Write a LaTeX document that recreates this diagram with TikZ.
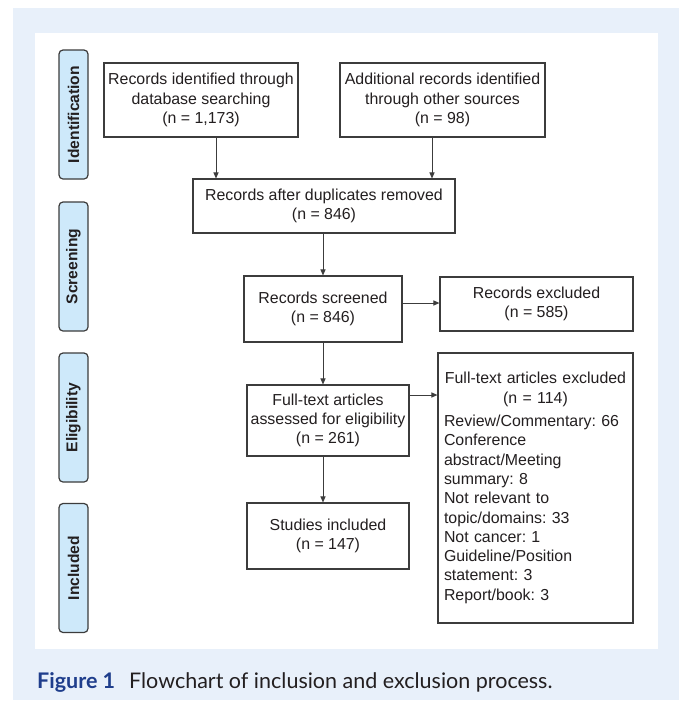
\documentclass[tikz,border=0pt]{standalone}
\usepackage{fontspec}
\setmainfont{Liberation Sans}
\newfontfamily\capfont{Lato}
\usetikzlibrary{arrows.meta}
\definecolor{bgblue}{RGB}{232,240,250}
\definecolor{labblue}{RGB}{206,233,250}
\definecolor{linegray}{RGB}{60,60,60}
\definecolor{txt}{RGB}{35,31,32}
\definecolor{capblue}{RGB}{31,62,140}
\frenchspacing
\begin{document}
\begin{tikzpicture}[x=1pt,y=-1pt,
  box/.style={draw=linegray, line width=1.1pt, fill=white, inner sep=0pt, align=center,
    font=\fontsize{15.9}{19.3}\selectfont, text=txt},
  phase/.style={draw=linegray, line width=1.2pt, fill=labblue, rounded corners=4pt,
    minimum width=129pt, minimum height=29pt, inner sep=0pt, rotate=90,
    font=\bfseries\fontsize{15.6}{18}\selectfont, text=txt},
  arr/.style={draw=linegray, line width=1pt, -{Triangle[length=6pt,width=5pt]}},
]
\useasboundingbox (0,0) rectangle (683,705);
\fill[bgblue] (13,8) rectangle (679,700);
\fill[white] (35,33) rectangle (658,649);

% phase labels
\node[phase] (pid) at (73.5,114.5) {Identification};
\node[phase] (psc) at (73.5,266.5) {Screening};
\node[phase] (pel) at (73.5,417.5) {Eligibility};
\node[phase] (pin) at (73.5,568) {Included};

% boxes
\node[box, minimum width=194pt, minimum height=74pt] (b1) at (201,100)
  {Records identified through\\database searching\\(n = 1,173)};
\node[box, minimum width=205pt, minimum height=74pt] (b2) at (442.5,100)
  {Additional records identified\\through other sources\\(n = 98)};
\node[box, minimum width=262pt, minimum height=54pt] (b3) at (324,206)
  {Records after duplicates removed\\(n = 846)};
\node[box, minimum width=158pt, minimum height=66pt] (b4) at (323,309)
  {Records screened\\(n = 846)};
\node[box, minimum width=193pt, minimum height=54pt] (b5) at (536.5,304)
  {Records excluded\\(n = 585)};
\node[box, minimum width=162pt, minimum height=71pt] (b6) at (328,420.5)
  {Full-text articles\\assessed for eligibility\\(n = 261)};
\node[box, minimum width=195pt, minimum height=270pt, text width=183pt, align=left] (b7) at (535.5,488)
  {\makebox[183pt][c]{Full-text articles excluded}\\
   \makebox[183pt][c]{(n = 114)}\\[4pt]
   Review/Commentary: 66\\Conference\\abstract/Meeting\\summary: 8\\Not relevant to\\topic/domains: 33\\Not cancer: 1\\Guideline/Position\\statement: 3\\Report/book: 3};
\node[box, minimum width=162pt, minimum height=66pt] (b8) at (328,536)
  {Studies included\\(n = 147)};

% connector guides
\coordinate (x1) at (216,0);
\coordinate (x2) at (432,0);
\coordinate (xs) at (323,0);
\coordinate (y1) at (0,303);
\coordinate (y2) at (0,395);

\draw[arr] (b1.south -| x1) -- (b3.north -| x1);
\draw[arr] (b2.south -| x2) -- (b3.north -| x2);
\draw[arr] (b3.south -| xs) -- (b4.north -| xs);
\draw[arr] (b4.east |- y1) -- (b5.west |- y1);
\draw[arr] (b4.south -| xs) -- (b6.north -| xs);
\draw[arr] (b6.east |- y2) -- (b7.west |- y2);
\draw[arr] (b6.south -| xs) -- (b8.north -| xs);

% caption
\node[anchor=west, inner sep=0pt, font=\capfont\fontsize{21.5}{24}\selectfont, text=txt] (cap) at (37,682)
  {\textcolor{capblue}{\bfseries Figure 1}\hspace{14pt}Flowchart of inclusion and exclusion process.};
\end{tikzpicture}
\end{document}
